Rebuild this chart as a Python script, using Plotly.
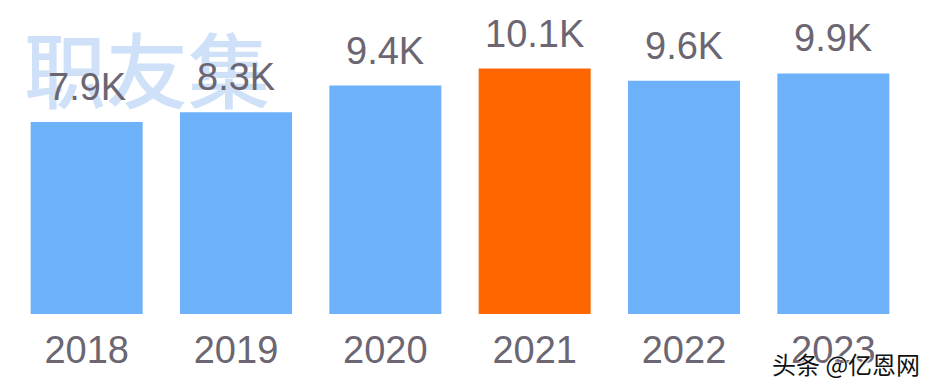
import plotly.graph_objects as go

years = ["2018", "2019", "2020", "2021", "2022", "2023"]
values = [7.9, 8.3, 9.4, 10.1, 9.6, 9.9]
labels = ["7.9K", "8.3K", "9.4K", "10.1K", "9.6K", "9.9K"]
highlight = "2021"

BLUE = "#6db1fb"
ORANGE = "#ff6600"
TEXT = "#6b6672"
FONT = "Liberation Sans, Arial, sans-serif"

colors = [ORANGE if y == highlight else BLUE for y in years]

fig = go.Figure()
fig.add_trace(go.Bar(x=years, y=values, marker=dict(color=colors, line=dict(width=0)),
                     width=0.75, hoverinfo="skip"))

# watermark
fig.add_annotation(xref="paper", yref="paper", x=0.0, y=1.0, xanchor="left", yanchor="top",
                   xshift=10, yshift=5,
                   text="职友集", showarrow=False,
                   font=dict(family="Noto Sans CJK SC", size=82, weight=500, color="#cfe1f8"))

for i, (v, lab) in enumerate(zip(values, labels)):
    fig.add_annotation(x=i, y=v, text=lab, showarrow=False, yanchor="bottom", yshift=12,
                       font=dict(family=FONT, size=38, color=TEXT))

fig.add_annotation(xref="paper", yref="paper", x=1.0, y=0.0, xanchor="right", yanchor="top",
                   xshift=14, yshift=-30,
                   text="头条 @亿恩网", showarrow=False,
                   font=dict(family="Noto Sans CJK SC", size=24, color="#111111",
                             shadow="1px 1px 1px #ffffff, -1px -1px 1px #ffffff"))

fig.update_layout(
    width=924, height=382,
    margin=dict(l=4, r=24, t=2, b=76),
    paper_bgcolor="white", plot_bgcolor="white",
    showlegend=False, bargap=0.25,
    xaxis=dict(type="category", range=[-0.5, 5.5], showgrid=False, showline=False,
               zeroline=False, ticks="",
               tickfont=dict(family=FONT, size=38, color=TEXT), ticklabelstandoff=10),
    yaxis=dict(range=[0, 12.51], visible=False),
)

fig.write_html("out.html")
